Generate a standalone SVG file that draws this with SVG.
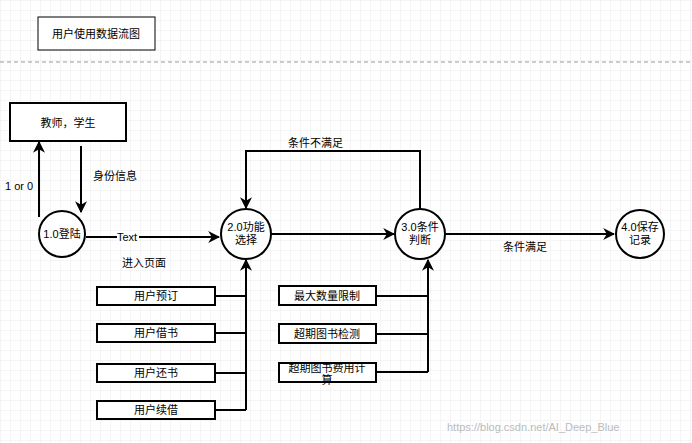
<svg xmlns="http://www.w3.org/2000/svg" width="692" height="443" viewBox="0 0 692 443">
<defs>
<pattern id="g" width="10" height="10" patternUnits="userSpaceOnUse"><path d="M10 0H0V10" fill="none" stroke="#ececec" stroke-width="1"/></pattern>
<marker id="a" viewBox="0 0 10 10" refX="9" refY="5" markerWidth="6" markerHeight="6" orient="auto"><path d="M0 0L10 5L0 10L3 5z" fill="#000"/></marker>
</defs>
<style>
text{font-family:"Liberation Sans","Noto Sans CJK SC",sans-serif;font-size:11px;fill:#000}
.b{fill:#fff;stroke:#000;stroke-width:2}
.l{fill:none;stroke:#000;stroke-width:2}
.c{text-anchor:middle}
</style>
<rect width="692" height="443" fill="#fff"/>
<rect width="692" height="443" fill="url(#g)"/>
<g id="title"><rect x="38" y="17" width="117" height="33" fill="#fff" stroke="#000"/><text class="c" x="96" y="38">用户使用数据流图</text></g>
<line x1="0" y1="62" x2="692" y2="62" stroke="#999" stroke-dasharray="4 3"/>
<g id="conn">
<line class="l" x1="39" y1="217" x2="39" y2="142" marker-end="url(#a)"/>
<line class="l" x1="81" y1="146" x2="81" y2="212" marker-end="url(#a)"/>
<line class="l" x1="86" y1="237" x2="219" y2="237" marker-end="url(#a)"/>
<line class="l" x1="271" y1="234" x2="394" y2="234" marker-end="url(#a)"/>
<line class="l" x1="445" y1="234" x2="614" y2="234" marker-end="url(#a)"/>
<polyline class="l" points="420,209 420,151 246,151 246,208" marker-end="url(#a)"/>
<line class="l" x1="246" y1="410" x2="246" y2="260" marker-end="url(#a)"/>
<line class="l" x1="428" y1="372" x2="428" y2="260" marker-end="url(#a)"/>
<path class="l" d="M215 296H246M215 333H246M215 373H246M215 410H246M376 296H428M376 334H428M376 372H428"/>
</g>
<text x="5" y="190">1 or 0</text>
<text x="93" y="180">身份信息</text>
<rect x="117" y="231" width="22" height="12" fill="#fff"/><text x="117" y="241">Text</text>
<text x="122" y="267">进入页面</text>
<text x="288" y="147">条件不满足</text>
<text x="503" y="251">条件满足</text>
<g id="teacher"><rect class="b" x="10" y="103" width="116" height="38"/><text class="c" x="68" y="127" font-size="12">教师，学生</text></g>
<g id="n1"><circle class="b" cx="62" cy="234" r="23"/><text class="c" x="62" y="238">1.0登陆</text></g>
<g id="n2"><circle class="b" cx="246" cy="234" r="25"/><text class="c" x="246" y="231">2.0功能</text><text class="c" x="246" y="244">选择</text></g>
<g id="n3"><circle class="b" cx="420" cy="234" r="25"/><text class="c" x="420" y="231">3.0条件</text><text class="c" x="420" y="244">判断</text></g>
<g id="n4"><circle class="b" cx="640" cy="234" r="24"/><text class="c" x="640" y="231">4.0保存</text><text class="c" x="640" y="244">记录</text></g>
<g id="u1"><rect class="b" x="97" y="287" width="118" height="18"/><text class="c" x="156" y="300">用户预订</text></g>
<g id="u2"><rect class="b" x="97" y="324" width="118" height="18"/><text class="c" x="156" y="337">用户借书</text></g>
<g id="u3"><rect class="b" x="97" y="364" width="118" height="18"/><text class="c" x="156" y="377">用户还书</text></g>
<g id="u4"><rect class="b" x="97" y="401" width="118" height="18"/><text class="c" x="156" y="414">用户续借</text></g>
<g id="r1"><rect class="b" x="279" y="286" width="97" height="19"/><text class="c" x="327" y="300">最大数量限制</text></g>
<g id="r2"><rect class="b" x="279" y="324" width="97" height="19"/><text class="c" x="327" y="338">超期图书检测</text></g>
<g id="r3"><rect class="b" x="279" y="363" width="97" height="19"/><text class="c" x="327" y="372">超期图书费用计</text><text class="c" x="327" y="384">算</text></g>
<text x="447" y="431" font-size="12" fill="#bbb" style="fill:#bbb">https://blog.csdn.net/AI_Deep_Blue</text>
</svg>
